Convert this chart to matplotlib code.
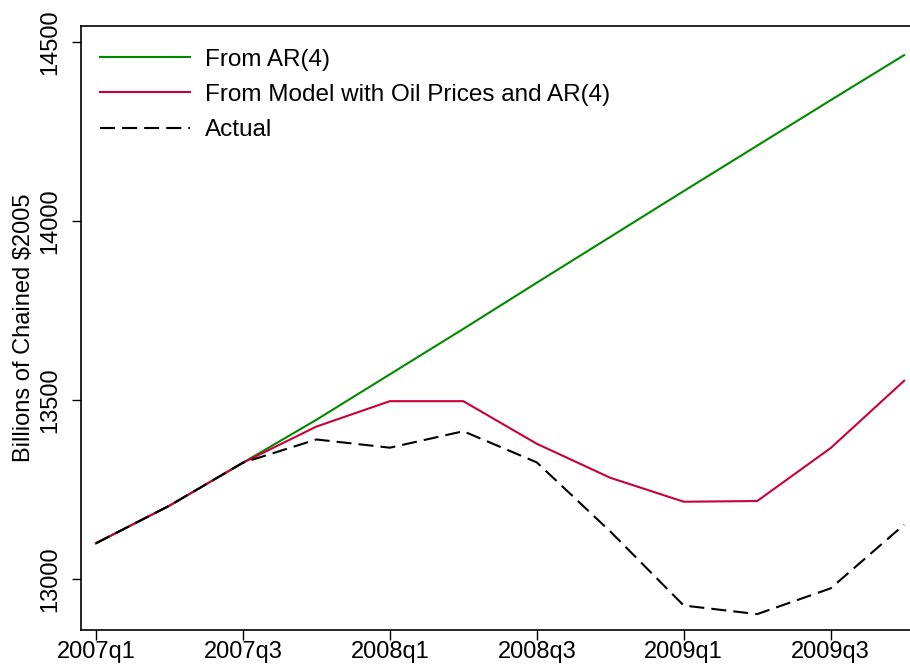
import numpy as np
import matplotlib
matplotlib.use("Agg")
import matplotlib.pyplot as plt

# quarters and the three series (billions of chained 2005 dollars)
quarters = ["2007q1", "2007q2", "2007q3", "2007q4", "2008q1", "2008q2",
            "2008q3", "2008q4", "2009q1", "2009q2", "2009q3", "2009q4"]
ar4 = [13100, 13205, 13325, 13445, 13572, 13699, 13828, 13956, 14084, 14211, 14338, 14464]
oil_ar4 = [13100, 13205, 13325, 13426, 13497, 13497, 13378, 13283, 13216, 13218, 13366, 13554]
actual = [13100, 13205, 13325, 13390, 13367, 13413, 13326, 13133, 12926, 12902, 12974, 13152]

tick_labels = ["2007q1", "2007q3", "2008q1", "2008q3", "2009q1", "2009q3"]

plt.rcParams['font.family'] = ['Liberation Sans', 'DejaVu Sans']

fig = plt.figure(figsize=(9.1, 6.66), dpi=100)
ax = fig.add_axes([0.089, 0.0548, 0.911, 0.906])

x = np.arange(len(quarters))
ax.plot(x, ar4, color='#008a00', lw=1.5, label='From AR(4)')
ax.plot(x, oil_ar4, color='#c8003c', lw=1.5, label='From Model with Oil Prices and AR(4)')
ax.plot(x, actual, color='black', lw=1.5, dashes=(7.2, 3.4), label='Actual')

ax.set_xlim(-0.204, 11.08)
ax.set_ylim(12859, 14545)

ax.set_xticks([quarters.index(t) for t in tick_labels])
ax.set_xticklabels(tick_labels, fontsize=17)
ax.set_yticks([13000, 13500, 14000, 14500])
ax.set_yticklabels(['13000', '13500', '14000', '14500'], fontsize=17,
                   rotation=90, va='center')
ax.tick_params(axis='x', length=7, width=1, color='black', pad=1.5)
ax.tick_params(axis='y', length=6.5, width=1, color='black', pad=8)
ax.set_ylabel('Billions of Chained $2005', fontsize=17, labelpad=3)

ax.spines['right'].set_visible(False)
for s in ['left', 'bottom', 'top']:
    ax.spines[s].set_linewidth(1.2)

leg = ax.legend(loc='upper left', frameon=False, fontsize=17.5,
                handlelength=3.7, handletextpad=0.62, labelspacing=0.55,
                borderaxespad=0.45, bbox_to_anchor=(-0.002, 0.997))

fig.savefig('out.png', dpi=100)
